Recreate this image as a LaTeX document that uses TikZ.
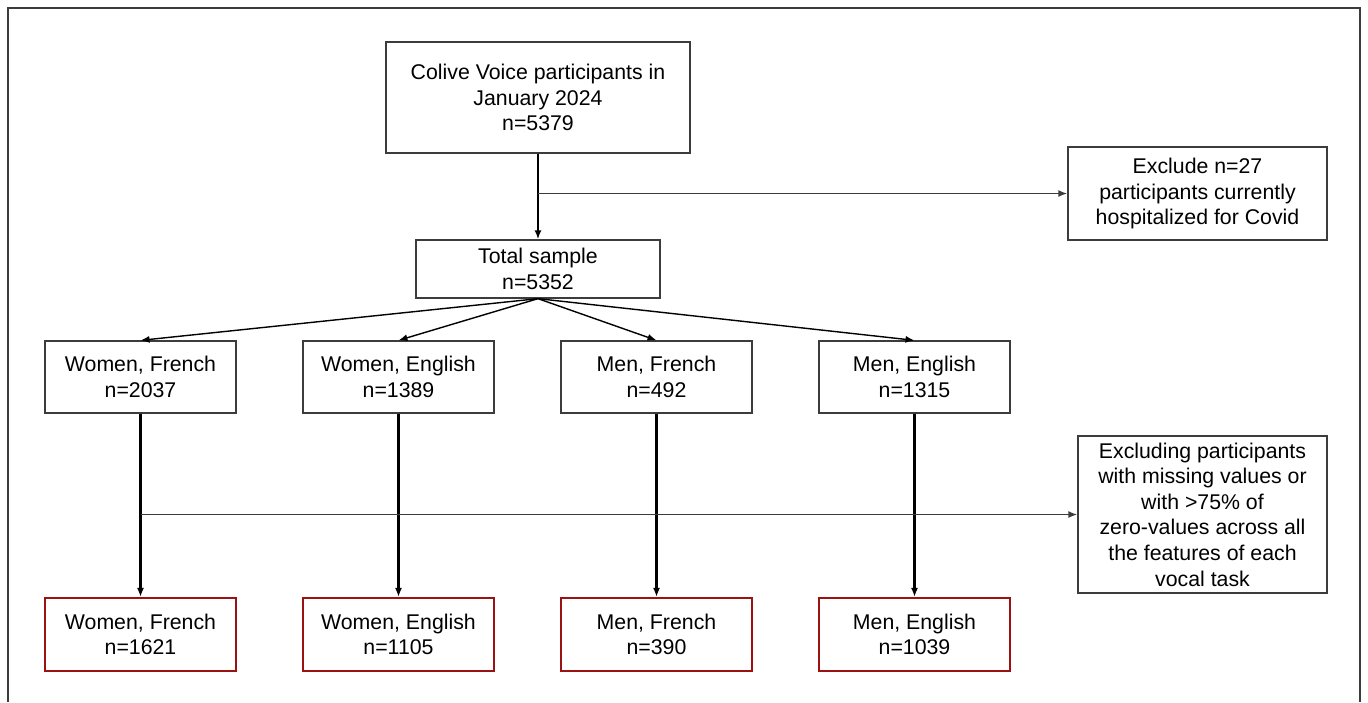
\documentclass[tikz,border=0pt]{standalone}
\usepackage{fontspec}
\setmainfont{Liberation Sans}
\usepackage{tikz}
\usetikzlibrary{arrows.meta,calc}
\definecolor{boxred}{RGB}{155,18,18}
\definecolor{boxgray}{RGB}{60,60,60}
\tikzset{
  stepbox/.style={draw=boxgray, line width=1.3pt, align=center, inner sep=0pt,
    font=\fontsize{21.3}{25.6}\selectfont,
    execute at begin node={\rule{0pt}{19.5pt}}},
  finalbox/.style={stepbox, draw=boxred, line width=2.1pt},
  flow/.style={-{Latex[length=9pt,width=7pt]}, line width=2.2pt, draw=black},
  fan/.style={-{Latex[length=9pt,width=7pt]}, line width=1.4pt, draw=black},
  branch/.style={-{Latex[length=9pt,width=7pt]}, line width=1.6pt, draw=boxgray}
}

\begin{document}
\begin{tikzpicture}[x=1pt,y=-1pt]
          \useasboundingbox (0,0) rectangle (1368,702);
          \draw[line width=1.6pt, draw=boxgray] (8,702) -- (8,8) -- (1360,8) -- (1360,702);

          \node[stepbox, minimum width=304pt, minimum height=111pt] (Participants) at (538,97.5) {Colive Voice participants in\\January 2024\\n=5379};
          \node[stepbox, minimum width=259pt, minimum height=93pt] (Hospital) at (1197.5,193.5) {Exclude n=27\\participants currently\\hospitalized for Covid};
          \node[stepbox, minimum width=244pt, minimum height=58pt] (Total) at (538,269) {Total sample\\n=5352};

          \node[stepbox, minimum width=191pt, minimum height=72pt] (WomenFr) at (140.5,377) {Women, French\\n=2037};
          \node[stepbox, minimum width=191pt, minimum height=72pt] (WomenEn) at (398.5,377) {Women, English\\n=1389};
          \node[stepbox, minimum width=191pt, minimum height=72pt] (MenFr) at (656.5,377) {Men, French\\n=492};
          \node[stepbox, minimum width=191pt, minimum height=72pt] (MenEn) at (914.5,377) {Men, English\\n=1315};

          \node[stepbox, minimum width=249pt, minimum height=157pt] (Missing) at (1202.5,514.5) {Excluding participants\\with missing values or\\with >75\% of\\zero-values across all\\the features of each\\vocal task};

          \node[finalbox, minimum width=191pt, minimum height=73pt] (WomenFrOut) at (140.5,634.5) {Women, French\\n=1621};
          \node[finalbox, minimum width=191pt, minimum height=73pt] (WomenEnOut) at (398.5,634.5) {Women, English\\n=1105};
          \node[finalbox, minimum width=191pt, minimum height=73pt] (MenFrOut) at (656.5,634.5) {Men, French\\n=390};
          \node[finalbox, minimum width=191pt, minimum height=73pt] (MenEnOut) at (914.5,634.5) {Men, English\\n=1039};

          \coordinate (SplitTop) at (538,193.5);
          \coordinate (SplitLow) at (140.5,514.5);

          \draw[flow] (Participants) to (Total);
          \draw[branch] (SplitTop) to (Hospital.west);

          \draw[fan] (Total.south) to (WomenFr.north);
          \draw[fan] (Total.south) to (WomenEn.north);
          \draw[fan] (Total.south) to (MenFr.north);
          \draw[fan] (Total.south) to (MenEn.north);

          \draw[flow] (WomenFr) to (WomenFrOut);
          \draw[flow] (WomenEn) to (WomenEnOut);
          \draw[flow] (MenFr) to (MenFrOut);
          \draw[flow] (MenEn) to (MenEnOut);
          \draw[branch] (SplitLow) to (Missing.west);
        \end{tikzpicture}
\end{document}
